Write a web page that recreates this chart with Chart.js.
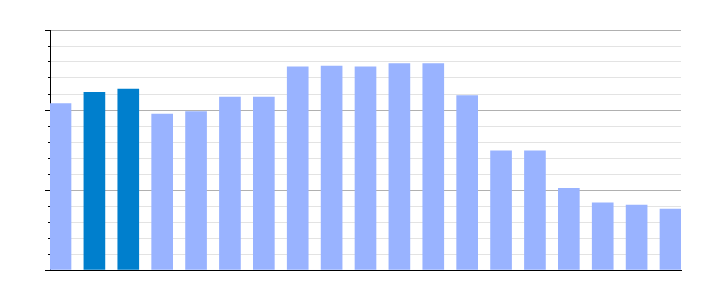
<!DOCTYPE html>
<html>
<head>
<meta charset="utf-8">
<script src="https://cdn.jsdelivr.net/npm/chart.js@4/dist/chart.umd.min.js"></script>
<style>
  html, body { margin: 0; padding: 0; background: #fff; }
  canvas { display: block; }
</style>
</head>
<body>
<canvas id="barChart" width="710" height="300"></canvas>
<script>
// Data (no labels are shown on the chart)
const categories = ['1', '2', '3', '4', '5', '6', '7', '8', '9', '10',
  '11', '12', '13', '14', '15', '16', '17', '18', '19'];
const values = [10.4, 11.1, 11.3, 9.75, 9.9, 10.8, 10.8, 12.7, 12.75, 12.7,
  12.9, 12.9, 10.9, 7.45, 7.45, 5.1, 4.2, 4.05, 3.8];
const highlighted = ['2', '3'];
const yTicks = [0, 5, 10, 15];

const LIGHT = '#99b3ff';
const DARK = '#007fcd';

const points = categories.map((c, i) => ({ x: i, y: values[i] }));
const colors = categories.map(c => highlighted.includes(c) ? DARK : LIGHT);

const ctx = document.getElementById('barChart');

new Chart(ctx, {
  type: 'bar',
  data: {
    datasets: [{
      data: points,
      backgroundColor: colors,
      borderWidth: 0,
      barThickness: 21
    }]
  },
  options: {
    responsive: false,
    animation: false,
    layout: {
      padding: { left: 45, right: 29, top: 30, bottom: 30 }
    },
    plugins: {
      legend: { display: false },
      tooltip: { enabled: false }
    },
    scales: {
      x: {
        type: 'linear',
        offset: false,
        min: -0.31,
        max: categories.length - 1 + 0.31,
        grid: { display: false, drawTicks: false },
        ticks: { display: false },
        border: { display: true, color: '#000', width: 1 }
      },
      y: {
        min: yTicks[0],
        max: yTicks[yTicks.length - 1],
        ticks: { display: false, stepSize: 1 },
        grid: {
          color: c => yTicks.includes(c.tick.value) ? '#b0b0b0' : '#e3e3e3',
          tickColor: '#000',
          tickLength: 5,
          tickBorderDash: c => yTicks.includes(c.tick.value) ? [] : [0, 3, 2, 20]
        },
        border: { display: true, color: '#000', width: 1 }
      }
    }
  }
});
</script>
</body>
</html>
